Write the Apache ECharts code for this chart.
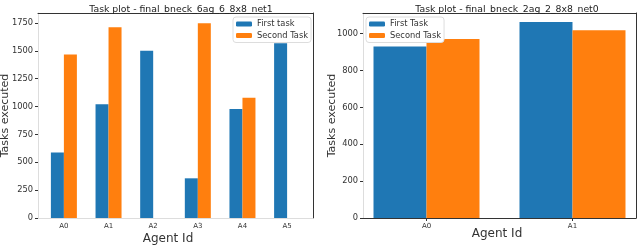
<!DOCTYPE html>
<html><head><meta charset="utf-8">
<script src="https://cdn.jsdelivr.net/npm/echarts@6/dist/echarts.min.js"></script>
<style>html,body{margin:0;padding:0;background:#fff}#c{width:640px;height:247px}</style>
</head><body><div id="c"></div>
<script>
// Left chart data
const catsL = ['A0','A1','A2','A3','A4','A5'];
const firstL = [588, 1020, 1500, 356, 978, 1567];
const secondL = [1467, 1712, 0, 1746, 1078, 0];
const yTicksL = [0, 250, 500, 750, 1000, 1250, 1500, 1750];
// Right chart data
const catsR = ['A0','A1'];
const firstR = [930, 1063];
const secondR = [971, 1018];
const yTicksR = [0, 200, 400, 600, 800, 1000];

const FONT = 'DejaVu Sans';
const BLUE = '#1f77b4', ORANGE = '#ff7f0e';
const idx = a => a.map((_, i) => i);

function xAxesFor(grid, cats, min, max, bottomColor, showTick, namePadRight, nameGap) {
  return [
    { type: 'value', gridIndex: grid, min, max, position: 'bottom',
      axisLine: { show: true, onZero: false, lineStyle: { color: bottomColor, width: 1 } },
      axisTick: { show: showTick, length: 3, customValues: idx(cats), lineStyle: { color: '#333' } },
      axisLabel: { customValues: idx(cats), formatter: v => cats[Math.round(v)], fontSize: 7, color: '#333', fontFamily: FONT, margin: 5 },
      splitLine: { show: false },
      name: 'Agent Id', nameLocation: 'middle', nameGap, nameMoveOverlap: false,
      nameTextStyle: { fontSize: 12, color: '#333', fontFamily: FONT, padding: [0, namePadRight, 0, 0] } },
    { type: 'value', gridIndex: grid, min, max, position: 'top',
      axisLine: { show: true, onZero: false, lineStyle: { color: '#333', width: 1 } },
      axisTick: { show: false }, axisLabel: { show: false }, splitLine: { show: false } }
  ];
}
function yAxesFor(grid, ticks, max, leftColor, nameGap) {
  return [
    { type: 'value', gridIndex: grid, min: 0, max, position: 'left',
      axisLine: { show: true, onZero: false, lineStyle: { color: leftColor, width: 1 } },
      axisTick: { show: true, length: 3, customValues: ticks, lineStyle: { color: '#333' } },
      axisLabel: { customValues: ticks, formatter: v => String(v), fontSize: 8.3, color: '#333', fontFamily: FONT, margin: 5 },
      splitLine: { show: false },
      name: 'Tasks executed', nameLocation: 'middle', nameGap, nameMoveOverlap: false,
      nameTextStyle: { fontSize: 11, color: '#333', fontFamily: FONT } },
    { type: 'value', gridIndex: grid, min: 0, max, position: 'right',
      axisLine: { show: true, onZero: false, lineStyle: { color: '#333', width: 1 } },
      axisTick: { show: false }, axisLabel: { show: false }, splitLine: { show: false } }
  ];
}

const xA = [...xAxesFor(0, catsL, -0.58, 5.58, '#ddd', false, 15, 15), ...xAxesFor(1, catsR, -0.435, 1.435, '#333', true, 5, 10)];
const yA = [...yAxesFor(0, yTicksL, 1839, '#ddd', 27), ...yAxesFor(1, yTicksR, 1112, '#ddd', 25)];

const legendBase = {
  orient: 'vertical', itemWidth: 16, itemHeight: 5, itemGap: 1.5, padding: [2, 3, 2, 3],
  backgroundColor: '#fff', borderColor: '#ddd', borderWidth: 1, borderRadius: 3,
  textStyle: { fontSize: 8.3, lineHeight: 10, color: '#333', fontFamily: FONT }, z: 10
};

const chart = echarts.init(document.getElementById('c'), null, { renderer: 'canvas' });
chart.setOption({
  animation: false,
  textStyle: { fontFamily: FONT },
  title: [
    { text: 'Task plot - final_bneck_6ag_6_8x8_net1', left: 176, top: 0, textAlign: 'center',
      textStyle: { fontSize: 9.3, fontWeight: 'normal', color: '#222', fontFamily: FONT } },
    { text: 'Task plot - final_bneck_2ag_2_8x8_net0', left: 502, top: 0, textAlign: 'center',
      textStyle: { fontSize: 9.3, fontWeight: 'normal', color: '#222', fontFamily: FONT } }
  ],
  grid: [
    { left: 38, top: 13, width: 275, height: 205, containLabel: false, outerBoundsMode: 'none' },
    { left: 363, top: 13, width: 273, height: 205, containLabel: false, outerBoundsMode: 'none' }
  ],
  legend: [
    Object.assign({}, legendBase, { data: ['First task', 'Second Task'], left: 233, top: 17 }),
    Object.assign({}, legendBase, { data: ['First Task', 'Second Task'], left: 366, top: 17 })
  ],
  xAxis: xA,
  yAxis: yA,
  series: [
    { name: 'First task', type: 'bar', xAxisIndex: 0, yAxisIndex: 0, barWidth: 13, barGap: '0%',
      itemStyle: { color: BLUE }, data: firstL.map((v, i) => [i, v]) },
    { name: 'Second Task', type: 'bar', xAxisIndex: 0, yAxisIndex: 0, barWidth: 13, barGap: '0%',
      itemStyle: { color: ORANGE }, data: secondL.map((v, i) => [i, v]) },
    { name: 'First Task', type: 'bar', xAxisIndex: 2, yAxisIndex: 2, barWidth: 53, barGap: '0%',
      itemStyle: { color: BLUE }, data: firstR.map((v, i) => [i, v]) },
    { name: 'Second Task', type: 'bar', xAxisIndex: 2, yAxisIndex: 2, barWidth: 53, barGap: '0%',
      itemStyle: { color: ORANGE }, data: secondR.map((v, i) => [i, v]) }
  ]
});
</script></body></html>
